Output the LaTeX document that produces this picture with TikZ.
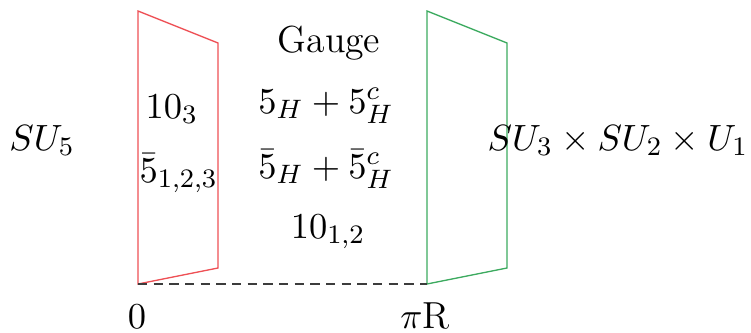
\documentclass[tikz,border=0pt]{standalone}
\begin{document}
\begin{tikzpicture}[x=0.3pt,y=-0.3pt,
  lbl/.style={anchor=base,inner sep=0pt,font=\fontsize{11.3}{14}\selectfont},
  branered/.style={draw={rgb,255:red,238;green,80;blue,85},line width=0.4pt},
  branegreen/.style={draw={rgb,255:red,60;green,170;blue,95},line width=0.4pt},
  bulk/.style={draw={rgb,255:red,60;green,60;blue,60},line width=0.45pt,dash pattern=on 2.8pt off 1.9pt}]
\useasboundingbox (0,0) rectangle (751,332);
% red brane corners
\coordinate (r1) at (138,11);
\coordinate (r2) at (218,43);
\coordinate (r3) at (218,268);
\coordinate (r4) at (138,284);
% green brane corners
\coordinate (g1) at (427,11);
\coordinate (g2) at (507,43);
\coordinate (g3) at (507,268);
\coordinate (g4) at (427,284);
\draw[branered] (r1) -- (r2) -- (r3) -- (r4) -- cycle;
\draw[branegreen] (g1) -- (g2) -- (g3) -- (g4) -- cycle;
\draw[bulk] (r4) -- (g4);
% labels
\node[lbl] (su5) at (42,150) {$SU_5$};
\node[lbl,anchor=base west] (smg) at (487,150) {$SU_3\times SU_2\times U_1$};
\node[lbl] (gauge) at (329,52) {Gauge};
\node[lbl] (fiveH) at (326,113) {$5_H+5_H^c$};
\node[lbl] (fivebarH) at (326,178) {$\bar 5_H+\bar 5_H^c$};
\node[lbl] (ten12) at (328,238) {$10_{1,2}$};
\node[lbl,anchor=base west] (ten3) at (145,118) {$10_3$};
\node[lbl,anchor=base west] (fivebar) at (139,182) {$\bar 5_{1,2,3}$};
\node[lbl] (zero) at (137,328) {$0$};
\node[lbl] (piR) at (425,328) {$\pi$R};
\end{tikzpicture}
\end{document}
